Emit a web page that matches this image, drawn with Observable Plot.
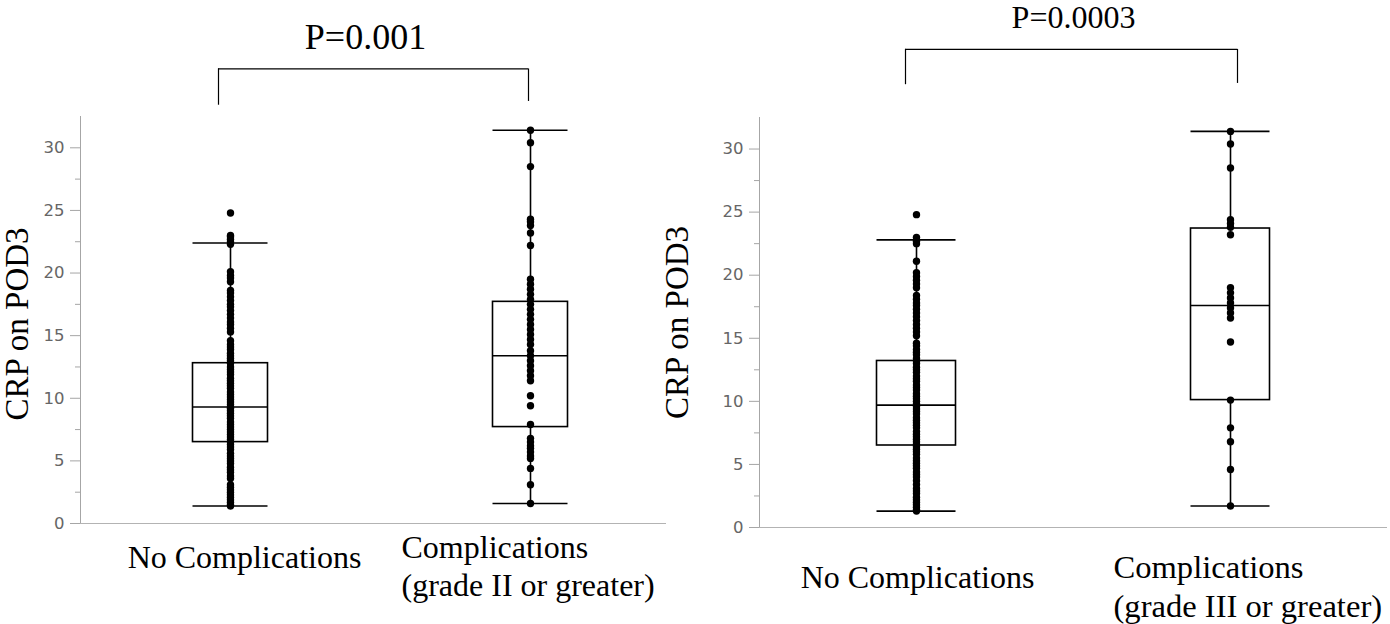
<!DOCTYPE html>
<html>
<head>
<meta charset="utf-8">
<script src="https://cdn.jsdelivr.net/npm/d3@7"></script>
<script src="https://cdn.jsdelivr.net/npm/@observablehq/plot@0.6"></script>
<style>
  body { margin: 0; background: #fff; }
  #wrap { position: relative; width: 1390px; height: 624px; overflow: hidden; background: #fff; }
  #wrap svg { position: absolute; top: 0; }
</style>
</head>
<body>
<div id="wrap"></div>
<script>
// ---------- data ----------
const majorTicks = [0, 5, 10, 15, 20, 25, 30];
const minorTicks = [2.5, 7.5, 12.5, 17.5, 22.5, 27.5];
const yLabel = "CRP on POD3";

// Left panel: complications grade II or greater
const leftGroups = ["No Complications", "Complications\n(grade II or greater)"];
const leftNoValues = [24.8, 23.0, 22.9, 22.7, 22.5, 22.3, 20.1, 19.8, 19.6, 19.3, 18.6, 18.4, 18.1, 17.8, 17.5, 17.3, 17.0, 16.7, 16.4, 16.1, 15.9, 15.6, 15.3, 14.6, 14.3, 14.1, 13.9, 13.6, 13.4, 13.2, 13.0, 12.8, 12.5, 12.3, 12.1, 11.9, 11.6, 11.4, 11.2, 11.0, 10.8, 10.5, 10.3, 10.1, 9.9, 9.7, 9.5, 9.3, 9.2, 9.0, 8.8, 8.6, 8.4, 8.1, 7.9, 7.7, 7.5, 7.3, 7.1, 6.9, 6.7, 6.5, 6.3, 6.1, 5.9, 5.6, 5.4, 5.2, 5.0, 4.8, 4.5, 4.3, 4.1, 3.8, 3.6, 3.1, 2.9, 2.7, 2.5, 2.3, 2.1, 1.9, 1.7, 1.5, 1.4];
const leftCompValues = [31.4, 30.4, 28.5, 24.3, 24.1, 23.8, 23.2, 22.2, 19.5, 19.1, 18.7, 18.3, 17.9, 17.5, 17.1, 16.7, 16.3, 15.9, 15.5, 15.1, 14.7, 14.3, 13.8, 13.4, 13.0, 12.6, 12.2, 11.8, 11.4, 10.2, 9.4, 7.9, 6.8, 6.5, 6.2, 6.0, 5.7, 5.4, 5.2, 4.4, 3.1, 1.6];
const leftLo = [1.4, 1.6];
const leftQ1 = [6.5, 7.7];
const leftMed = [9.3, 13.4];
const leftQ3 = [12.8, 17.7];
const leftHi = [22.4, 31.4];
const leftP = "P=0.001";
const leftBracketY = [33.4, 36.3, 36.3, 33.7];

// Right panel: complications grade III or greater
const rightGroups = ["No Complications", "Complications\n(grade III or greater)"];
const rightNoValues = [24.8, 23.0, 22.8, 22.7, 22.5, 21.1, 20.2, 19.9, 19.6, 19.3, 19.0, 18.4, 18.1, 17.8, 17.6, 17.3, 17.0, 16.7, 16.4, 16.1, 15.8, 15.5, 15.2, 14.6, 14.4, 14.1, 13.9, 13.7, 13.4, 13.2, 13.0, 12.7, 12.5, 12.3, 12.0, 11.8, 11.6, 11.3, 11.1, 10.9, 10.6, 10.4, 10.2, 10.0, 9.8, 9.6, 9.4, 9.2, 9.0, 8.7, 8.5, 8.3, 8.1, 7.9, 7.6, 7.4, 7.2, 7.0, 6.8, 6.6, 6.4, 6.2, 6.0, 5.8, 5.5, 5.3, 5.1, 4.9, 4.7, 4.4, 4.2, 4.0, 3.7, 3.4, 3.1, 2.9, 2.7, 2.4, 2.2, 2.0, 1.8, 1.6, 1.4, 1.3];
const rightCompValues = [31.4, 30.4, 28.5, 24.4, 24.1, 23.8, 23.2, 19.0, 18.6, 18.2, 17.8, 17.4, 17.0, 16.6, 14.7, 10.1, 7.9, 6.8, 4.6, 1.7];
const rightLo = [1.3, 1.7];
const rightQ1 = [6.5, 10.1];
const rightMed = [9.7, 17.6];
const rightQ3 = [13.2, 23.7];
const rightHi = [22.8, 31.4];
const rightP = "P=0.0003";
const rightBracketY = [35.1, 37.9, 37.9, 35.2];

// ---------- drawing ----------
const serif = "'Liberation Serif', 'Times New Roman', Times, serif";
const sans = "'DejaVu Sans', Verdana, sans-serif";

function panel(o) {
  const box = o.groups.map((g, i) => ({g, lo: o.lo[i], q1: o.q1[i], med: o.med[i], q3: o.q3[i], hi: o.hi[i]}));
  const pts = o.groups.flatMap((g, i) => o.values[i].map(v => ({g, v})));
  const band = o.width - o.marginLeft - o.marginRight;
  const half = band / 4;
  const inset = (band / 2 - o.boxW) / 2;
  const sw = 1.6;
  const bracketTop = [{y: o.bracketY[1], a: o.groups[0], b: o.groups[1]}];
  return Plot.plot({
    width: o.width,
    height: 624,
    marginLeft: o.marginLeft,
    marginRight: o.marginRight,
    marginTop: o.marginTop,
    marginBottom: o.marginBottom,
    style: {background: "transparent", overflow: "visible"},
    x: {domain: o.groups, padding: 0, axis: null},
    y: {domain: [0, 32.5], axis: null, label: null},
    marks: [
      Plot.frame({anchor: "left", stroke: "#a6a6a6"}),
      Plot.ruleY([0], {stroke: "#b3b3b3", strokeWidth: 1.2, insetRight: o.axisInsetRight}),
      Plot.axisY(minorTicks, {tickSize: 5, tickFormat: () => "", stroke: "#a6a6a6", label: null}),
      Plot.axisY(majorTicks, {tickSize: 10, tickPadding: 6, stroke: "#a6a6a6", color: "#666",
        fontFamily: sans, fontSize: 16.5, label: null}),
      // whiskers
      Plot.ruleX(box, {x: "g", y1: "lo", y2: "q1", stroke: "black", strokeWidth: sw}),
      Plot.ruleX(box, {x: "g", y1: "q3", y2: "hi", stroke: "black", strokeWidth: sw}),
      Plot.tickY(box, {x: "g", y: "lo", stroke: "black", strokeWidth: sw, insetLeft: inset, insetRight: inset}),
      Plot.tickY(box, {x: "g", y: "hi", stroke: "black", strokeWidth: sw, insetLeft: inset, insetRight: inset}),
      // box
      Plot.barY(box, {x: "g", y1: "q1", y2: "q3", fill: "none", stroke: "black", strokeWidth: sw, insetLeft: inset, insetRight: inset}),
      Plot.tickY(box, {x: "g", y: "med", stroke: "black", strokeWidth: sw, insetLeft: inset, insetRight: inset}),
      // points
      Plot.dot(pts, {x: "g", y: "v", r: 3.7, fill: "black", stroke: null}),
      // significance bracket
      Plot.ruleX([o.groups[0]], {x: d => d, y1: o.bracketY[0], y2: o.bracketY[1], dx: o.bracketDx0, stroke: "black", strokeWidth: 1.2}),
      Plot.ruleX([o.groups[1]], {x: d => d, y1: o.bracketY[3], y2: o.bracketY[2], dx: o.bracketDx1, stroke: "black", strokeWidth: 1.2}),
      Plot.ruleY(bracketTop, {y: "y", x1: "a", x2: "b",
        insetLeft: half + o.bracketDx0, insetRight: half - o.bracketDx1, stroke: "black", strokeWidth: 1.2}),
      Plot.text([o.p], {text: d => d, frameAnchor: "top", textAnchor: "middle", lineAnchor: "bottom",
        dx: o.pDx, dy: o.pDy, fontFamily: serif, fontSize: o.pSize, fill: "black"}),
      // y label
      Plot.text([yLabel], {text: d => d, frameAnchor: "left", textAnchor: "middle", rotate: -90,
        dx: o.yLabelDx, dy: o.yLabelDy, fontFamily: serif, fontSize: 33, fill: "black"}),
      // x labels
      Plot.text([o.groups[0]], {x: d => d, text: d => d, frameAnchor: "bottom", lineAnchor: "top",
        textAnchor: "middle", dx: o.lab0Dx, dy: o.lab0Dy, fontFamily: serif, fontSize: 32, fill: "black"}),
      Plot.text([o.groups[1]], {x: d => d, text: d => d, frameAnchor: "bottom", lineAnchor: "top",
        textAnchor: "start", dx: o.lab1Dx, dy: o.lab1Dy, lineHeight: 1.2, fontFamily: serif, fontSize: o.lab1Size, fill: "black"})
    ]
  });
}

const wrap = document.getElementById("wrap");

const left = panel({
  groups: leftGroups, values: [leftNoValues, leftCompValues],
  lo: leftLo, q1: leftQ1, med: leftMed, q3: leftQ3, hi: leftHi,
  p: leftP, bracketY: leftBracketY, pSize: 36,
  width: 690, marginLeft: 80, marginRight: 10, marginTop: 116, marginBottom: 101,
  boxW: 75, axisInsetRight: 14,
  bracketDx0: -12, bracketDx1: -2, pDx: -15, pDy: -68, yLabelDx: -63, yLabelDy: 4,
  lab0Dx: 14, lab0Dy: 22, lab1Dx: -129, lab1Dy: 7, lab1Size: 32
});
left.style.left = "0px";
wrap.appendChild(left);

const right = panel({
  groups: rightGroups, values: [rightNoValues, rightCompValues],
  lo: rightLo, q1: rightQ1, med: rightMed, q3: rightQ3, hi: rightHi,
  p: rightP, bracketY: rightBracketY, pSize: 32,
  width: 750, marginLeft: 119, marginRight: 3, marginTop: 117, marginBottom: 97,
  boxW: 79, axisInsetRight: 0,
  bracketDx0: -11, bracketDx1: 7, pDx: 0, pDy: -90, yLabelDx: -82, yLabelDy: 0,
  lab0Dx: 1, lab0Dy: 38, lab1Dx: -117, lab1Dy: 23, lab1Size: 32.6
});
right.style.left = "640px";
wrap.appendChild(right);
</script>
</body>
</html>
